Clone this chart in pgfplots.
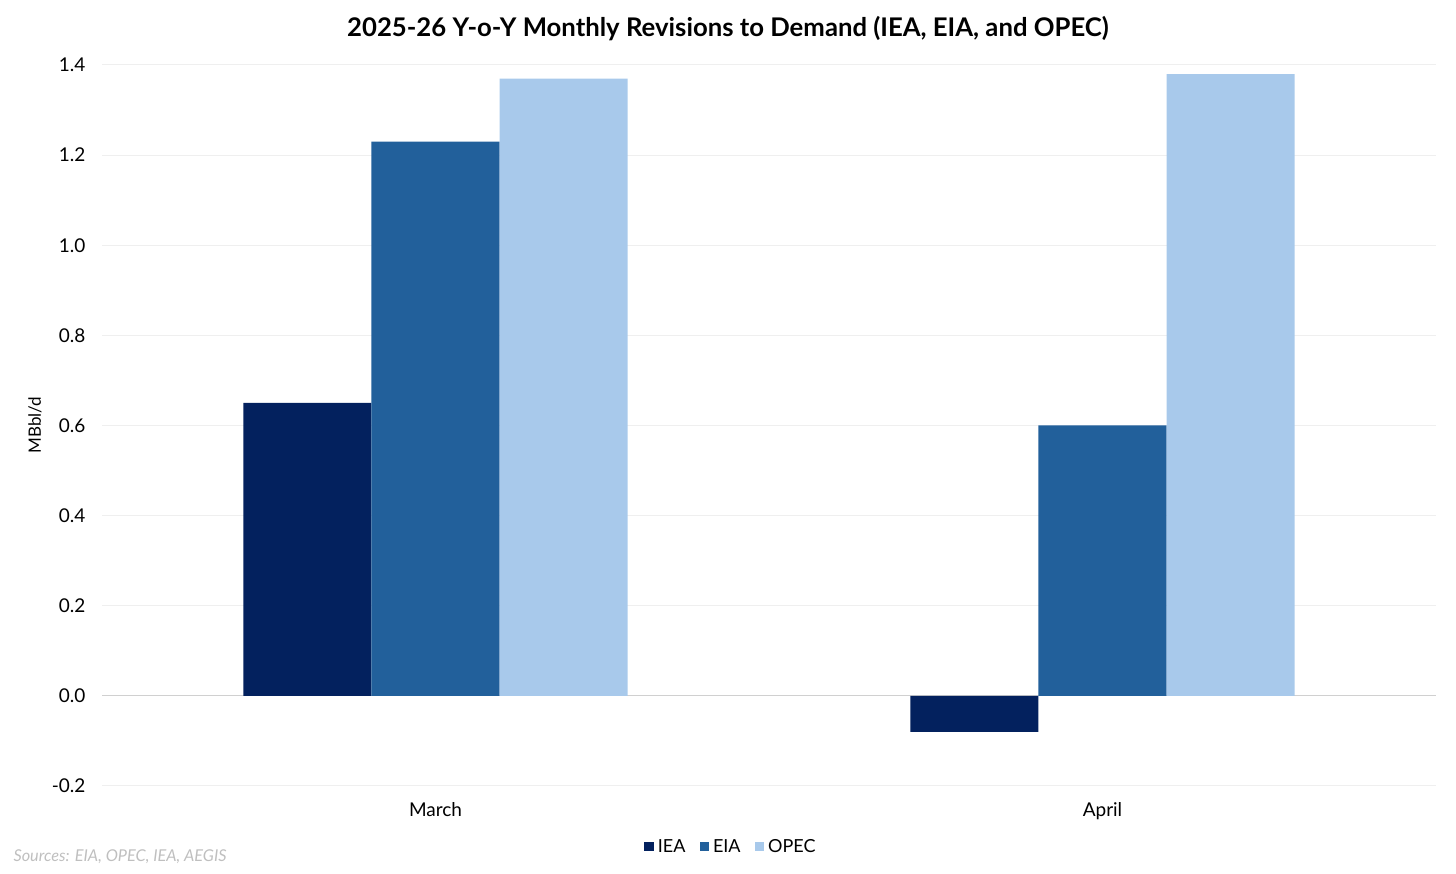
\documentclass[border=0pt]{standalone}
\usepackage{pgfplots}
\pgfplotsset{compat=1.18}
\usepackage{fontspec}
\setmainfont{Lato}
\definecolor{iea}{HTML}{03215E}
\definecolor{eia}{HTML}{22609B}
\definecolor{opec}{HTML}{A8C9EB}
\definecolor{gridc}{HTML}{EFEFEF}
\definecolor{zeroc}{HTML}{D0D0D0}
\begin{document}
\begin{tikzpicture}[x=1pt,y=1pt]
\path[use as bounding box] (0,0) rectangle (1456,874);
\begin{axis}[
  at={(102pt,88pt)}, anchor=south west,
  scale only axis, width=1334pt, height=721pt,
  xmin=-0.5, xmax=1.5, ymin=-0.2, ymax=1.4,
  ybar=0pt, bar width=0.192,
  xtick={0,1}, xticklabels={March,April},
  ytick={-0.2,0,...,1.4},
  axis line style={draw=none},
  major tick length=0pt,
  ymajorgrids, grid style={color=gridc, line width=1pt},
  extra y ticks={0}, extra y tick labels={},
  extra y tick style={grid style={color=zeroc, line width=1.2pt}},
  /pgf/number format/assume math mode=true,
  yticklabel style={/pgf/number format/fixed, /pgf/number format/fixed zerofill, /pgf/number format/precision=1, font=\fontsize{19}{22}\selectfont, xshift=-13pt},
  xticklabel style={font=\fontsize{19}{22}\selectfont, yshift=-13pt},
  legend style={at={(0.4715,-0.0846)}, anchor=center, draw=none, fill=none, legend columns=3, font=\fontsize{18}{21}\selectfont, /tikz/every even column/.append style={column sep=12pt}, /tikz/every odd column/.append style={column sep=2pt}},
  legend image code/.code={\fill[#1] (0pt,-4.5pt) rectangle (9.5pt,5pt);},
]
\addplot[fill=iea, draw=none] coordinates {(0,0.65) (1,-0.08)};
\addplot[fill=eia, draw=none] coordinates {(0,1.23) (1,0.60)};
\addplot[fill=opec, draw=none] coordinates {(0,1.37) (1,1.38)};
\legend{IEA,EIA,OPEC}
\end{axis}
\node at (728,845) {\fontsize{25.7}{30}\selectfont\bfseries 2025-26 Y-o-Y Monthly Revisions to Demand (IEA, EIA, and OPEC)};
\node[rotate=90] at (35,449) {\fontsize{17}{20}\selectfont MBbl/d};
\node[anchor=west, text=gray!50] at (10,17) {\fontsize{16.3}{19}\selectfont\itshape Sources: EIA, OPEC, IEA, AEGIS};
\end{tikzpicture}
\end{document}
